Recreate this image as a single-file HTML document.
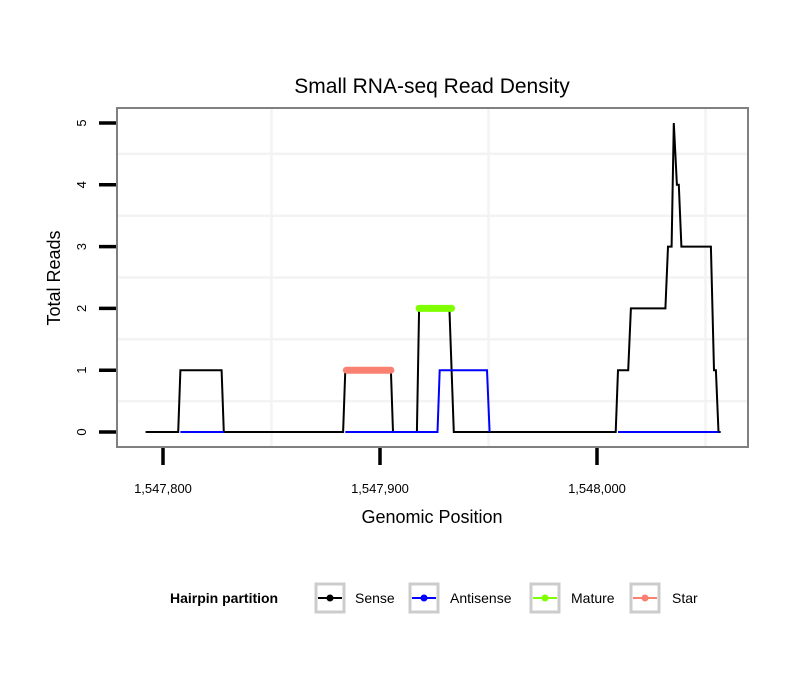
<!DOCTYPE html>
<html><head><meta charset="utf-8"><style>
body{margin:0;background:#fff;}
svg text{font-family:"Liberation Sans",sans-serif;}
</style></head><body>
<svg width="810" height="690" xmlns="http://www.w3.org/2000/svg">
<rect width="810" height="690" fill="#fff"/>
<text x="432" y="93" font-size="21" text-anchor="middle">Small RNA-seq Read Density</text>
<g id="grid"></g>
<g id="marks"></g>
<rect x="117" y="108" width="631" height="339" fill="none" stroke="#808080" stroke-width="2"/>
<g id="axes"></g>
<text x="432" y="523" font-size="18" text-anchor="middle">Genomic Position</text>
<text transform="translate(60,278) rotate(-90)" font-size="18" text-anchor="middle">Total Reads</text>
<g>
<text x="170" y="603" font-size="14" font-weight="bold">Hairpin partition</text>
<g><rect x="316" y="584" width="28" height="28" fill="#fff" stroke="#ccc" stroke-width="3"/><line x1="318" y1="598" x2="342" y2="598" stroke="#000" stroke-width="2"/><circle cx="330" cy="598" r="3.5" fill="#000"/><text x="355" y="603" font-size="14">Sense</text></g>
<g><rect x="410" y="584" width="28" height="28" fill="#fff" stroke="#ccc" stroke-width="3"/><line x1="412" y1="598" x2="436" y2="598" stroke="#0000ff" stroke-width="2"/><circle cx="424" cy="598" r="3.5" fill="#0000ff"/><text x="450" y="603" font-size="14">Antisense</text></g>
<g><rect x="531" y="584" width="28" height="28" fill="#fff" stroke="#ccc" stroke-width="3"/><line x1="533" y1="598" x2="557" y2="598" stroke="#7fff00" stroke-width="2"/><circle cx="545" cy="598" r="3.5" fill="#7fff00"/><text x="571" y="603" font-size="14">Mature</text></g>
<g><rect x="631" y="584" width="28" height="28" fill="#fff" stroke="#ccc" stroke-width="3"/><line x1="633" y1="598" x2="657" y2="598" stroke="#fa8072" stroke-width="2"/><circle cx="645" cy="598" r="3.5" fill="#fa8072"/><text x="672" y="603" font-size="14">Star</text></g>
</g>
</svg>
<script>
const senseX=[1547792,1547807,1547808,1547827,1547828,1547883,1547884,1547905,1547906,1547917,1547918,1547932,1547934,1548008.6,1548009.7,1548014.4,1548015.6,1548031.5,1548032.7,1548034.4,1548035.4,1548036.8,1548037.7,1548038.9,1548052.5,1548053.9,1548054.8,1548056,1548057];
const senseY=[0,0,1,1,0,0,1,1,0,0,2,2,0,0,1,1,2,2,3,3,5,4,4,3,3,1,1,0,0];
const antiX=[1547808,1547828,null,1547884,1547917,1547926.5,1547927.5,1547949.3,1547950.5,null,1548009.7,1548056];
const antiY=[0,0,null,0,0,0,1,1,0,null,0,0];
const matureX=[1547918,1547933];
const matureY=[2,2];
const starX=[1547884.5,1547905];
const starY=[1,1];
const xTicks=[1547800,1547900,1548000];
const xTickLabels=["1,547,800","1,547,900","1,548,000"];
const yTicks=[0,1,2,3,4,5];
const xMinor=[1547850,1547950,1548050];
const yMinor=[0.5,1.5,2.5,3.5,4.5];
const NS="http://www.w3.org/2000/svg";
function sx(v){return 163+(v-1547800)*2.17;}
function sy(v){return 432-v*61.8;}
function mk(tag,attrs,parent){const e=document.createElementNS(NS,tag);for(const k in attrs)e.setAttribute(k,attrs[k]);parent.appendChild(e);return e;}
const grid=document.getElementById('grid'),marks=document.getElementById('marks'),axes=document.getElementById('axes');
xMinor.forEach(v=>{const l=mk('line',{x1:sx(v),x2:sx(v),y1:108,y2:447,stroke:'#f3f3f3','stroke-width':2.5},grid);

});
yMinor.forEach(v=>{const l=mk('line',{x1:117,x2:748,y1:sy(v),y2:sy(v),stroke:'#f3f3f3','stroke-width':2.5},grid);

});
function path(xs,ys){let d='',pen=false;for(let i=0;i<xs.length;i++){if(xs[i]===null){pen=false;continue;}d+=(pen?'L':'M')+sx(xs[i]).toFixed(1)+','+sy(ys[i]).toFixed(1);pen=true;}return d;}
const ps=mk('path',{d:path(senseX,senseY),fill:'none',stroke:'#000','stroke-width':2,'stroke-linejoin':'miter'},marks);


const pa=mk('path',{d:path(antiX,antiY),fill:'none',stroke:'#0000ff','stroke-width':2},marks);


const pm=mk('path',{d:path(matureX,matureY),fill:'none',stroke:'#7fff00','stroke-width':7,'stroke-linecap':'round'},marks);


const pst=mk('path',{d:path(starX,starY),fill:'none',stroke:'#fa8072','stroke-width':7,'stroke-linecap':'round'},marks);


xTicks.forEach((v,i)=>{const t=mk('line',{x1:sx(v),x2:sx(v),y1:448,y2:465,stroke:'#000','stroke-width':3.5},axes);


const lb=mk('text',{x:sx(v),y:493,'font-size':13,'text-anchor':'middle'},axes);lb.textContent=xTickLabels[i];

});
yTicks.forEach(v=>{const t=mk('line',{x1:99,x2:116,y1:sy(v),y2:sy(v),stroke:'#000','stroke-width':3.5},axes);


const lb=mk('text',{transform:'translate(86,'+sy(v)+') rotate(-90)','font-size':13,'text-anchor':'middle'},axes);lb.textContent=v;

});
</script>
</body></html>
